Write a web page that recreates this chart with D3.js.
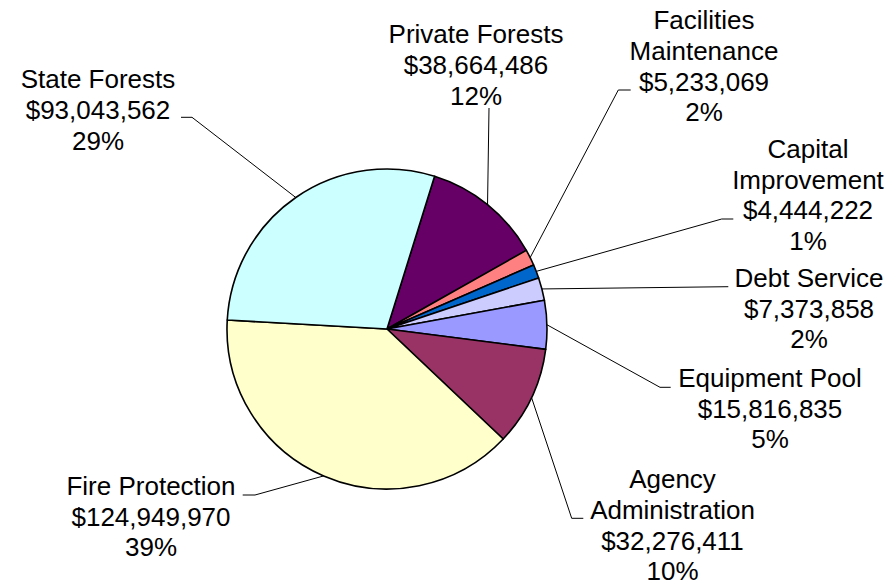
<!DOCTYPE html>
<html><head><meta charset="utf-8">
<script src="https://cdn.jsdelivr.net/npm/d3@7/dist/d3.min.js"></script>
<style>html,body{margin:0;padding:0;background:#fff;}svg{display:block;}</style>
</head><body>
<svg id="chart" width="893" height="584"></svg>
<script>
// ---- data (clockwise order, starting after 12 o'clock offset) ----
const categories = ["Private Forests","Facilities Maintenance","Capital Improvement","Debt Service","Equipment Pool","Agency Administration","Fire Protection","State Forests"];
const labelLines = [["Private Forests"],["Facilities","Maintenance"],["Capital","Improvement"],["Debt Service"],["Equipment Pool"],["Agency","Administration"],["Fire Protection"],["State Forests"]];
const values = [38664486, 5233069, 4444222, 7373858, 15816835, 32276411, 124949970, 93043562];
const colors = ["#660066","#FF8080","#0066CC","#CCCCFF","#9999FF","#993366","#FFFFCC","#CCFFFF"];

// ---- layout ----
const cx = 387, cy = 329, R = 160;
const startDeg = 17.3;
const fontSize = 26, lineH = 30.6;
const labelLayout = [
  {x:476, y:34,  leader:[[489,108]]},
  {x:704, y:20,  leader:[[618.3,90],[630.7,90]]},
  {x:808, y:148.5, leader:[[721.7,219],[733.3,219]]},
  {x:809, y:277.5, leader:[[728.3,286.7]]},
  {x:770, y:377.7, leader:[[660,387.3],[670.7,387.3]]},
  {x:672.5, y:479, leader:[[571.7,518.3],[583.3,518.3]]},
  {x:151, y:485.7, leader:[[255,495],[242.7,495]]},
  {x:98, y:79, leader:[[192,117.3],[181,117.3]]}
];

const svg = d3.select("#chart");
const total = d3.sum(values);
const pct = d3.format(".0%");
const money = v => "$" + d3.format(",")(v);
const s0 = startDeg * Math.PI / 180;
const pie = d3.pie().sort(null).value(d => d).startAngle(s0).endAngle(s0 + 2*Math.PI);
const arcs = pie(values);
const arc = d3.arc().innerRadius(0).outerRadius(R);

const g = svg.append("g").attr("transform", `translate(${cx},${cy})`);
g.selectAll("path.slice").data(arcs).join("path")
  .attr("class","slice")
  .attr("d", arc)
  .attr("fill", (d,i) => colors[i])
  .attr("stroke", "#000")
  .attr("stroke-width", 1.6)
  .attr("stroke-linejoin","round");

// leader lines
const line = d3.line();
arcs.forEach((d,i) => {
  const mid = (d.startAngle + d.endAngle)/2;
  const ex = cx + R*Math.sin(mid), ey = cy - R*Math.cos(mid);
  const pts = [[ex,ey]].concat(labelLayout[i].leader);
  svg.append("path").attr("d", line(pts)).attr("fill","none").attr("stroke","#000").attr("stroke-width",1);
});

// labels
arcs.forEach((d,i) => {
  const L = labelLayout[i];
  const lines = labelLines[i].concat([money(values[i]), pct(values[i]/total)]);
  const t = svg.append("text")
    .attr("font-family","'Liberation Sans', Arial, sans-serif")
    .attr("font-size", fontSize)
    .attr("fill","#000")
    .attr("text-anchor","middle");
  lines.forEach((s,k) => {
    t.append("tspan").attr("x", L.x).attr("y", L.y + k*lineH + 9.4).text(s);
  });
});
</script>
</body></html>
